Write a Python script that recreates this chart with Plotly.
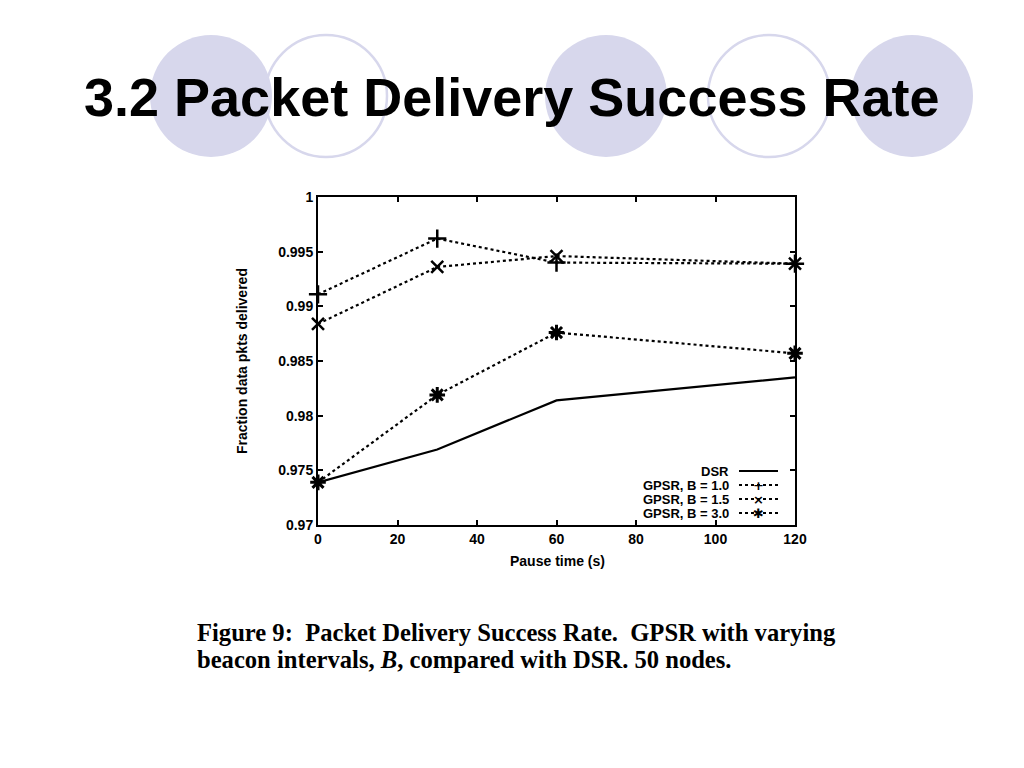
import plotly.graph_objects as go

# ---- data ----
pause_time = [0, 30, 60, 120]
dsr = [0.9739, 0.9769, 0.9814, 0.9835]
gpsr_b10 = [0.9911, 0.9962, 0.9940, 0.9939]
gpsr_b15 = [0.9884, 0.9936, 0.9946, 0.9939]
gpsr_b30 = [0.9739, 0.9819, 0.9876, 0.9857]

x_ticks = [0, 20, 40, 60, 80, 100, 120]
y_ticks = [0.97, 0.975, 0.98, 0.985, 0.99, 0.995, 1.0]
y_ticktext = ["0.97", "0.975", "0.98", "0.985", "0.99", "0.995", "1"]

series_names = ["DSR", "GPSR, B = 1.0", "GPSR, B = 1.5", "GPSR, B = 3.0"]

OFF = 8  # page body margin
W, H = 1024 - OFF * 2, 768 - OFF * 2
L, R, T, B = 318, 795, 197, 525  # plot area in screen pixels


def px(X):
    return (X - L) / (R - L)


def py(Y):
    return (B - Y) / (B - T)


fig = go.Figure()
fig.add_trace(go.Scatter(x=pause_time, y=dsr, mode="lines", name=series_names[0],
                         line=dict(color="black", width=2.2), cliponaxis=False))
fig.add_trace(go.Scatter(x=pause_time, y=gpsr_b10, mode="lines+markers", name=series_names[1],
                         line=dict(color="black", width=2.2, dash="dot"), cliponaxis=False,
                         marker=dict(symbol="cross-thin", size=13, color="black",
                                     line=dict(color="black", width=2.5))))
fig.add_trace(go.Scatter(x=pause_time, y=gpsr_b15, mode="lines+markers", name=series_names[2],
                         line=dict(color="black", width=2.2, dash="dot"), cliponaxis=False,
                         marker=dict(symbol="x-thin", size=12, color="black",
                                     line=dict(color="black", width=2.5))))
fig.add_trace(go.Scatter(x=pause_time, y=gpsr_b30, mode="lines+markers", name=series_names[3],
                         line=dict(color="black", width=2.2, dash="dot"), cliponaxis=False,
                         marker=dict(symbol="asterisk", size=13, color="black",
                                     line=dict(color="black", width=3))))

shapes = []
annotations = []

# decorative slide circles
circle_col = "#d7d7ec"
for cx, filled in [(211, True), (326, False), (606, True), (769, False), (912, True)]:
    r = 61
    shapes.append(dict(type="circle", xref="paper", yref="paper", layer="below",
                       x0=px(cx - r), x1=px(cx + r), y0=py(96 + r), y1=py(96 - r),
                       fillcolor=circle_col if filled else "rgba(0,0,0,0)",
                       line=dict(color=circle_col, width=0 if filled else 2.5)))

# slide title
annotations.append(dict(xref="paper", yref="paper", x=px(512), y=py(97),
                        text="<b>3.2 Packet Delivery Success Rate</b>", showarrow=False,
                        xanchor="center", yanchor="middle",
                        font=dict(family="Liberation Sans, Arial", size=54, color="black")))

# manual legend (text right-aligned, sample to the right)
leg_rows_y = [471, 485, 499, 513]
leg_symbols = [None, "+", "×", "✱"]
for name, ly, sym in zip(series_names, leg_rows_y, leg_symbols):
    annotations.append(dict(xref="paper", yref="paper", x=px(731), y=py(ly),
                            text="<b>" + name + "</b>", showarrow=False,
                            xanchor="right", yanchor="middle",
                            font=dict(family="Liberation Sans, Arial", size=13, color="black")))
    shapes.append(dict(type="line", xref="paper", yref="paper",
                       x0=px(739), x1=px(778), y0=py(ly), y1=py(ly),
                       line=dict(color="black", width=2, dash="solid" if sym is None else "dot")))
    if sym is not None:
        annotations.append(dict(xref="paper", yref="paper", x=px(758), y=py(ly),
                                text="<b>" + sym + "</b>", showarrow=False,
                                xanchor="center", yanchor="middle",
                                font=dict(family="DejaVu Sans", size=13, color="black")))

# axis titles
title_font = dict(family="Liberation Sans, Arial", size=14, color="black")
annotations.append(dict(xref="paper", yref="paper", x=px(557), y=py(561),
                        text="<b>Pause time (s)</b>", showarrow=False,
                        xanchor="center", yanchor="middle", font=title_font))
annotations.append(dict(xref="paper", yref="paper", x=px(242), y=py(361),
                        text="<b>Fraction data pkts delivered</b>", showarrow=False,
                        textangle=-90, xanchor="center", yanchor="middle", font=title_font))

# caption
cap_font = dict(family="Liberation Serif, Times New Roman", size=24.6, color="black")
annotations.append(dict(xref="paper", yref="paper", x=px(195), y=py(632),
                        text="<b>Figure 9:  Packet Delivery Success Rate.  GPSR with varying</b>",
                        showarrow=False, xanchor="left", yanchor="middle", font=cap_font))
annotations.append(dict(xref="paper", yref="paper", x=px(195), y=py(659),
                        text="<b>beacon intervals, <i>B</i>, compared with DSR. 50 nodes.</b>",
                        showarrow=False, xanchor="left", yanchor="middle", font=cap_font))

axis_font = dict(family="Liberation Sans, Arial", size=14, color="black")
fig.update_layout(
    width=W, height=H,
    margin=dict(l=L - OFF, r=W - (R - OFF), t=T - OFF, b=H - (B - OFF), pad=0),
    paper_bgcolor="white", plot_bgcolor="white",
    showlegend=False,
    shapes=shapes, annotations=annotations,
    font=dict(family="Liberation Sans, Arial", color="black"),
    xaxis=dict(range=[0, 120], tickvals=x_ticks, ticktext=["<b>%d</b>" % v for v in x_ticks],
               ticks="inside", ticklen=5, tickwidth=1.5, tickcolor="black",
               showline=True, linecolor="black", linewidth=2, mirror="ticks",
               showgrid=False, zeroline=False, tickfont=axis_font),
    yaxis=dict(range=[0.97, 1.0], tickvals=y_ticks, ticktext=["<b>%s</b>" % t for t in y_ticktext],
               ticks="inside", ticklen=5, tickwidth=1.5, tickcolor="black",
               showline=True, linecolor="black", linewidth=2, mirror="ticks",
               showgrid=False, zeroline=False, tickfont=axis_font),
)

fig.write_html("out.html")
